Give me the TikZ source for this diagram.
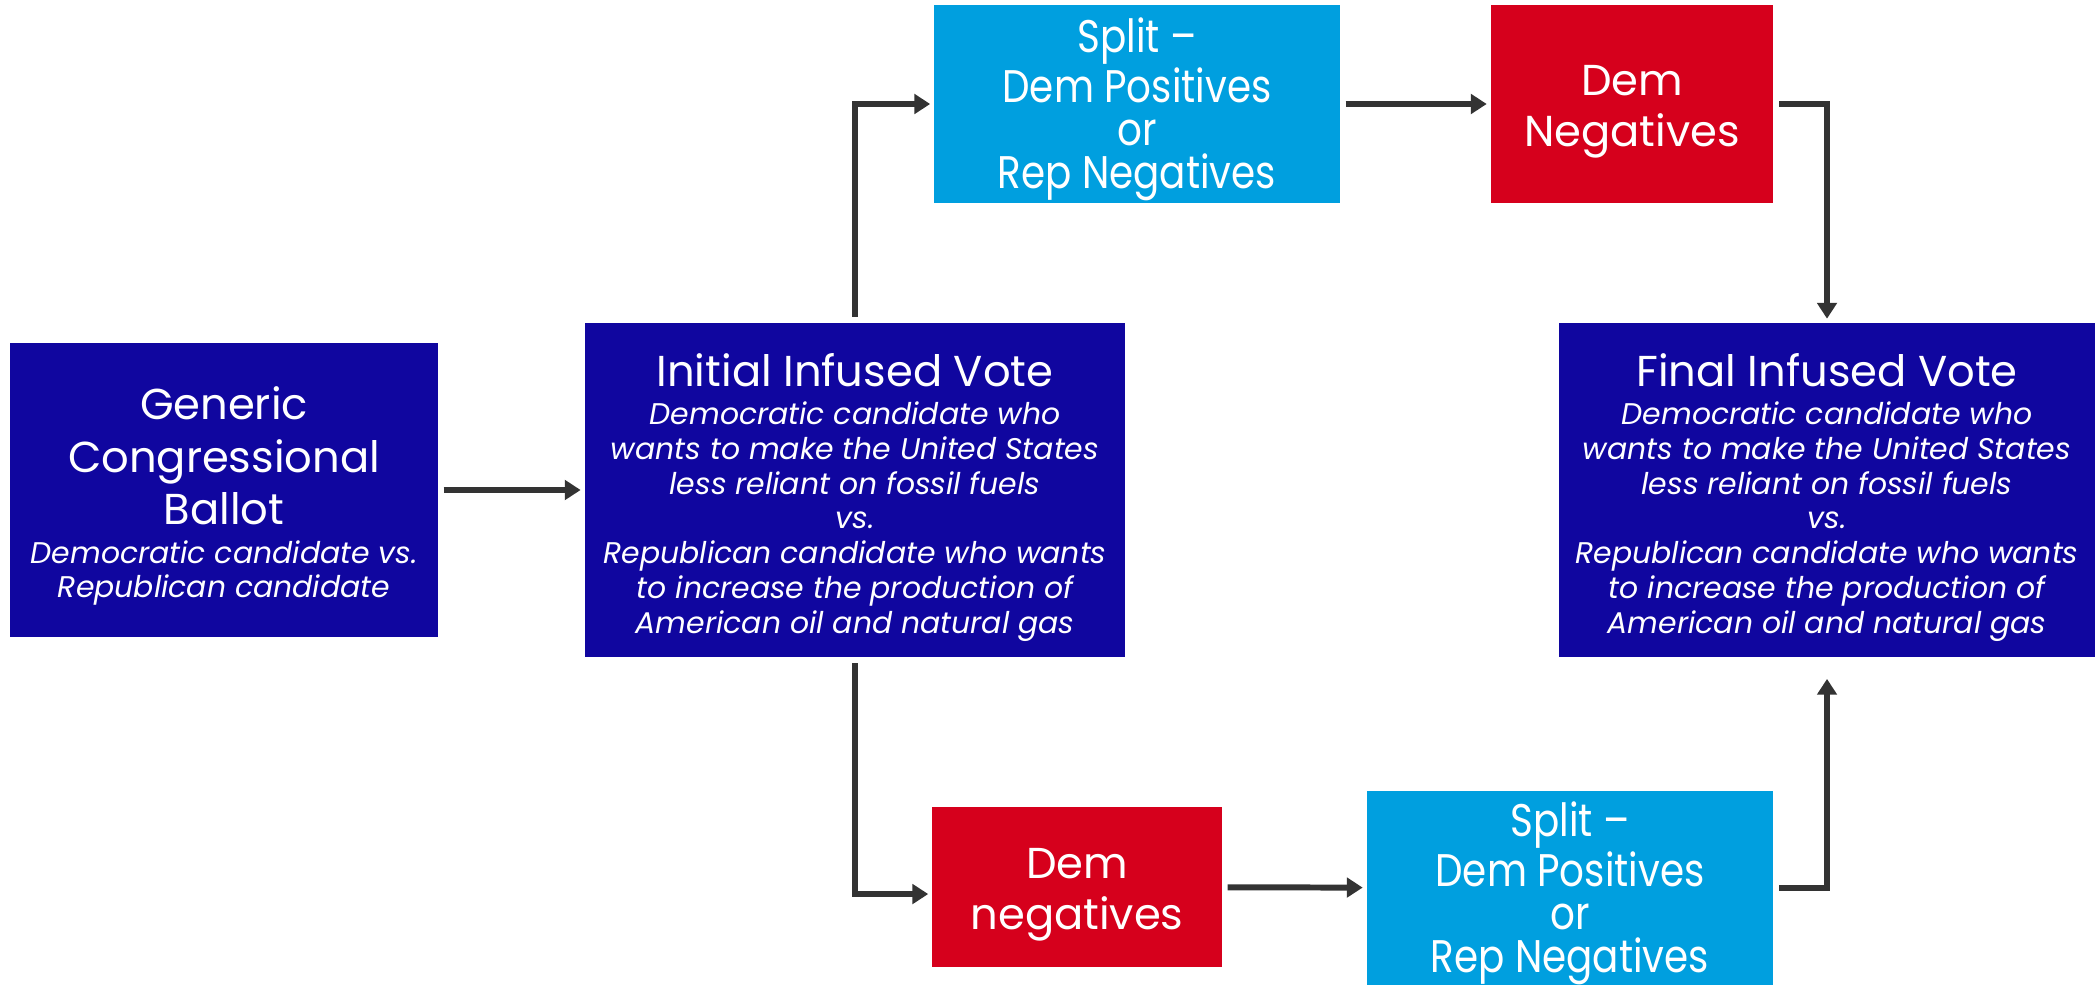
\documentclass[tikz,border=0pt]{standalone}
\usepackage{fontspec}
\setmainfont{Poppins}
\newfontfamily\narrowfont{Poppins}[FakeStretch=0.85]
\usetikzlibrary{arrows.meta}

\definecolor{ballotblue}{HTML}{10069F}
\definecolor{splitcyan}{HTML}{009FDF}
\definecolor{negred}{HTML}{D6001C}
\definecolor{flowgray}{HTML}{333333}

\newcommand{\hd}{\fontsize{12.3}{14.8}\selectfont}
\newcommand{\subtxt}{\itshape}
\newcommand{\toppad}[1]{\rule{0pt}{#1}}

\begin{document}
\begin{tikzpicture}[x=0.01cm,y=-0.01cm,
        box/.style={inner sep=0pt,align=center,text=white},
        vote/.style={box,fill=ballotblue,font=\fontsize{8.5}{9.9}\selectfont},
        splitbox/.style={box,fill=splitcyan,font=\narrowfont\fontsize{13}{12.2}\selectfont},
        negbox/.style={box,fill=negred,font=\fontsize{12.3}{14.4}\selectfont},
        flow/.style={draw=flowgray,line width=1.7pt,
            -{Triangle[length=4.5pt,width=5.5pt]},
            shorten <=1.5pt,shorten >=1pt}]
        \useasboundingbox (0,0) rectangle (2095,985);

        % Votes
        \node [vote,minimum width=4.27cm,minimum height=2.94cm] (gen) at (224,490)
            {\toppad{13pt}\hd Generic\\[5pt]\hd Congressional\\[1.5pt]\hd Ballot\\[1pt]
             \subtxt Democratic candidate vs.\\\subtxt Republican candidate};
        \node [vote,minimum width=5.40cm,minimum height=3.34cm] (init) at (855,490)
            {\toppad{13.5pt}\hd Initial Infused Vote\\[1pt]
             \subtxt Democratic candidate who\\
             \subtxt wants to make the United States\\
             \subtxt less reliant on fossil fuels\\
             \subtxt vs.\\
             \subtxt Republican candidate who wants\\
             \subtxt to increase the production of\\
             \subtxt American oil and natural gas};
        \node [vote,minimum width=5.36cm,minimum height=3.34cm] (final) at (1827,490)
            {\toppad{13.5pt}\hd Final Infused Vote\\[1pt]
             \subtxt Democratic candidate who\\
             \subtxt wants to make the United States\\
             \subtxt less reliant on fossil fuels\\
             \subtxt vs.\\
             \subtxt Republican candidate who wants\\
             \subtxt to increase the production of\\
             \subtxt American oil and natural gas};

        % Upper branch
        \node [splitbox,minimum width=4.05cm,minimum height=1.97cm] (splitA) at (1137,104)
            {\toppad{12.8pt}Split –\\Dem Positives\\or\\Rep Negatives};
        \node [negbox,minimum width=2.82cm,minimum height=1.97cm] (negA) at (1632,104)
            {\toppad{12.9pt}Dem\\Negatives};

        % Lower branch
        \node [negbox,minimum width=2.89cm,minimum height=1.60cm] (negB) at (1077,887)
            {\toppad{12.9pt}Dem\\negatives};
        \node [splitbox,minimum width=4.06cm,minimum height=1.94cm] (splitB) at (1570,888)
            {\toppad{12.8pt}Split –\\Dem Positives\\or\\Rep Negatives};

        % Arrows
        \draw [flow] (gen) -- (init);
        \draw [flow] (init.north) |- (splitA.west);
        \draw [flow] (splitA) -- (negA);
        \draw [flow] (negA.east) -| (final.north);
        \draw [flow] (init.south) |- ([yshift=-2pt]negB.west);
        \draw [flow] (negB) -- (splitB);
        \draw [flow,shorten >=6pt] (splitB.east) -| (final.south);
    \end{tikzpicture}
\end{document}
